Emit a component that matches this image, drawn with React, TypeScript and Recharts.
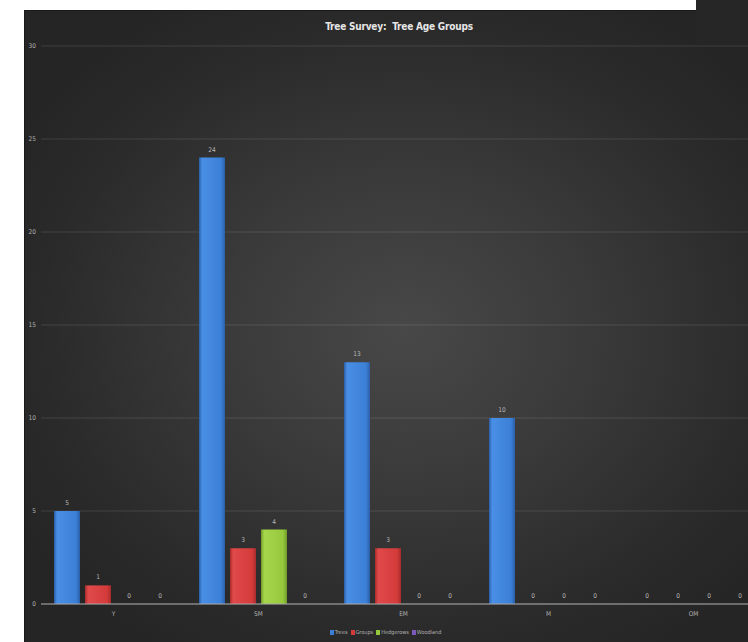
import { BarChart, Bar, XAxis, YAxis, CartesianGrid, Legend, LabelList } from "recharts";

// Tree age groups along the x-axis
const ageGroups = ["Y", "SM", "EM", "M", "OM"];
const trees = [5, 24, 13, 10, 0];
const groups = [1, 3, 3, 0, 0];
const hedgerows = [0, 4, 0, 0, 0];
const woodland = [0, 0, 0, 0, 0];
const yTicks = [0, 5, 10, 15, 20, 25, 30];

const data = ageGroups.map((age, i) => ({
  age,
  Trees: trees[i],
  Groups: groups[i],
  Hedgerows: hedgerows[i],
  Woodland: woodland[i],
}));

const series = [
  { key: "Trees", color: "#3b7fd6", edge: "#2a5ea8", light: "#4a8fe6" },
  { key: "Groups", color: "#d43b3b", edge: "#a82a2a", light: "#e04a4a" },
  { key: "Hedgerows", color: "#96c83c", edge: "#6f9a28", light: "#a6d64c" },
  { key: "Woodland", color: "#7a5ab8", edge: "#5a3f90", light: "#8a6ac8" },
];

const font = "'Liberation Sans Narrow', 'DejaVu Sans Condensed', sans-serif";
const tickStyle = { fill: "#b0b0b0", fontSize: 6.5, fontFamily: font, stroke: "none" };

// small legend like the office-style one in the original
const renderLegend = () => (
  <div style={{ display: "flex", justifyContent: "center", gap: 3, fontFamily: font, fontSize: 5.5, color: "#b0b0b0", paddingRight: 20 }}>
    {series.map((s) => (
      <span key={s.key} style={{ display: "flex", alignItems: "center", gap: 1 }}>
        <span style={{ display: "inline-block", width: 4, height: 5, background: s.color }} />
        {s.key}
      </span>
    ))}
  </div>
);

const TreeAgeChart = () => {
  return (
    <div style={{ position: "fixed", left: 0, top: 0, width: 748, height: 642, overflow: "hidden", background: "#fff" }}>
      <div
        style={{
          position: "absolute",
          left: 24,
          top: 10,
          width: 760,
          height: 640,
          background: "radial-gradient(ellipse 60% 60% at 50% 50%, #484848 0%, #3a3a3a 40%, #2a2a2a 80%, #252525 100%)",
          borderLeft: "1px solid #1a1a1a",
          borderTop: "1px solid #1a1a1a",
        }}
      >
        <div
          style={{
            position: "absolute",
            top: 10,
            left: 0,
            width: 748,
            textAlign: "center",
            fontFamily: font,
            fontWeight: "bold",
            fontSize: 10,
            letterSpacing: -0.2,
            color: "#e6e6e6",
            whiteSpace: "pre",
          }}
        >
          {"Tree Survey:  Tree Age Groups"}
        </div>
        <BarChart
          width={760}
          height={640}
          data={data}
          margin={{ top: 35, right: 19, left: 0, bottom: 14 }}
          barGap={5}
          barCategoryGap={13}
        >
          <defs>
            {series.map((s) => (
              <linearGradient key={s.key} id={`grad-${s.key}`} x1="0" y1="0" x2="1" y2="0">
                <stop offset="0%" stopColor={s.edge} />
                <stop offset="12%" stopColor={s.light} />
                <stop offset="85%" stopColor={s.color} />
                <stop offset="100%" stopColor={s.edge} />
              </linearGradient>
            ))}
          </defs>
          <CartesianGrid vertical={false} stroke="rgba(255,255,255,0.12)" />
          <XAxis
            dataKey="age"
            height={25}
            tickLine={false}
            tickSize={0}
            tickMargin={7}
            stroke="#a8a8a8"
            tick={tickStyle}
          />
          <YAxis
            width={16}
            domain={[0, 30]}
            ticks={yTicks}
            axisLine={false}
            tickLine={false}
            tickSize={0}
            tickMargin={5}
            tick={tickStyle}
          />
          <Legend verticalAlign="bottom" height={8} content={renderLegend} />
          {series.map((s) => (
            <Bar
              key={s.key}
              dataKey={s.key}
              fill={`url(#grad-${s.key})`}
              minPointSize={(v: number) => (v === 0 ? 0.001 : 0)}
              isAnimationActive={false}
            >
              <LabelList dataKey={s.key} position="top" offset={6} fill="#b8b8b8" stroke="none" fontSize={6.5} fontFamily={font} />
            </Bar>
          ))}
        </BarChart>
      </div>
      <div style={{ position: "absolute", left: 696, top: 0, width: 52, height: 44, background: "#262626" }} />
    </div>
  );
};

export default function App() {
  return <TreeAgeChart />;
}
